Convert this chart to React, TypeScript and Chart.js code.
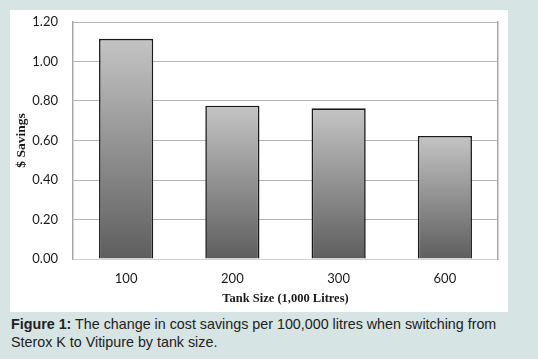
import React, { useEffect, useRef } from "react";
import { Chart, registerables } from "chart.js";

Chart.register(...registerables);

const categories = ["100", "200", "300", "600"];
const savings = [1.115, 0.776, 0.763, 0.623];
const yTicks = [0, 0.2, 0.4, 0.6, 0.8, 1.0, 1.2];
const yTitle = "$ Savings";
const xTitle = "Tank Size (1,000 Litres)";

export default function App() {
  const ref = useRef<HTMLCanvasElement | null>(null);

  useEffect(() => {
    if (!ref.current) return;
    const chart = new Chart(ref.current, {
      type: "bar",
      data: {
        labels: categories,
        datasets: [
          {
            data: savings,
            backgroundColor: (ctx: any) => {
              const c = ctx.chart;
              const ys = c.scales?.y;
              if (!c.chartArea || !ys) return "#999999";
              const v = ctx.parsed?.y ?? ctx.raw ?? 0;
              const top = ys.getPixelForValue(v);
              const bottom = ys.getPixelForValue(0);
              const g = c.ctx.createLinearGradient(0, top, 0, bottom);
              g.addColorStop(0, "#c4c4c4");
              g.addColorStop(1, "#5e5e5e");
              return g;
            },
            borderColor: "#1a1a1a",
            borderWidth: 1.6,
            categoryPercentage: 1,
            barPercentage: 0.51,
          },
        ],
      },
      options: {
        animation: false,
        responsive: false,
        maintainAspectRatio: false,
        layout: { padding: { left: 0, right: 10, top: 0, bottom: 0 } },
        plugins: { legend: { display: false }, tooltip: { enabled: false } },
        scales: {
          x: {
            grid: { display: false, drawTicks: false },
            border: { display: false },
            ticks: {
              padding: 12,
              color: "#1a1a1a",
              font: { family: "Lato", size: 13 },
            },
            title: {
              display: true,
              text: xTitle,
              color: "#1a1a1a",
              font: { family: "Liberation Serif", size: 12.5, weight: "bold" },
              padding: { top: 0, bottom: 6 },
            },
            afterFit: (s: any) => {
              s.height = 53;
              s.paddingLeft = 0;
              s.paddingRight = 0;
            },
          },
          y: {
            min: 0,
            max: 1.2,
            afterBuildTicks: (s: any) => {
              s.ticks = yTicks.map((v) => ({ value: v }));
            },
            grid: {
              drawTicks: false,
              color: (ctx: any) => (ctx.tick && ctx.tick.value === 0 ? "#c3d6ee" : "#b4b4b4"),
              lineWidth: 1,
            },
            border: { display: true, color: "#a8a8a8", width: 1.5 },
            ticks: {
              padding: 15,
              color: "#1a1a1a",
              font: { family: "Lato", size: 13 },
              callback: (v: any) => Number(v).toFixed(2),
            },
            title: {
              display: true,
              text: yTitle,
              color: "#1a1a1a",
              font: { family: "Liberation Serif", size: 13.5, weight: "bold" },
              padding: { top: 3, bottom: 0 },
            },
            afterFit: (s: any) => {
              s.width = 63;
              s.paddingTop = 12;
              s.paddingBottom = 0;
            },
          },
          y2: {
            position: "right",
            min: 0,
            max: 1.2,
            grid: { drawOnChartArea: false, drawTicks: false },
            border: { display: true, color: "#a8a8a8", width: 1.5 },
            ticks: { display: false },
            afterFit: (s: any) => {
              s.width = 0;
              s.paddingTop = 0;
              s.paddingBottom = 0;
            },
          },
        },
      } as any,
    });
    return () => chart.destroy();
  }, []);

  return (
    <div
      style={{
        position: "fixed",
        left: 0,
        top: 0,
        width: 538,
        height: 359,
        background: "#d6e4e4",
        overflow: "hidden",
      }}
    >
      <div
        style={{
          position: "absolute",
          left: 10,
          top: 10,
          width: 498,
          height: 302,
          background: "#ffffff",
        }}
      >
        <canvas ref={ref} width={498} height={302} style={{ display: "block" }} />
      </div>
      <div
        style={{
          position: "absolute",
          left: 11,
          top: 315,
          width: 510,
          fontFamily: "'Liberation Sans', Arial, sans-serif",
          fontSize: 14.3,
          lineHeight: "18px",
          color: "#222222",
        }}
      >
        <b>Figure 1:</b> The change in cost savings per 100,000 litres when switching from Sterox K to Vitipure by tank size.
      </div>
    </div>
  );
}
